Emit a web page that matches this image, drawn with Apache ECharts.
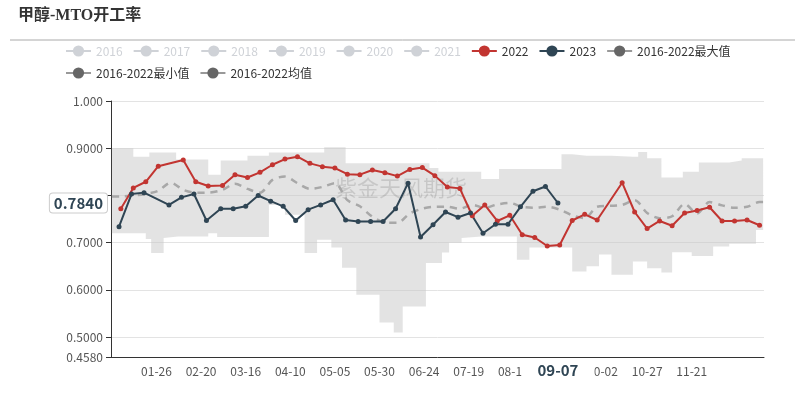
<!DOCTYPE html>
<html>
<head>
<meta charset="utf-8">
<script type="text/javascript" src="https://cdn.jsdelivr.net/npm/echarts@6/dist/echarts.min.js"></script>
</head>
<body style="margin:0;background:#fff;">
<div id="main" style="width:806px;height:400px;"></div>
<script type="text/javascript">
    // 日期轴：全年每天 MM-DD（含02-29）
    var monthDays = [31, 29, 31, 30, 31, 30, 31, 31, 30, 31, 30, 31];
    function pad(n) { return n < 10 ? '0' + n : '' + n; }
    var days = [];
    for (var m = 0; m < 12; m++) {
        for (var d = 1; d <= monthDays[m]; d++) days.push(pad(m + 1) + '-' + pad(d));
    }

    // 2022 周度
    var dates2022 = ['01-06','01-13','01-20','01-27','02-10','02-17','02-24','03-03','03-10','03-17','03-24','03-31',
        '04-07','04-14','04-21','04-28','05-05','05-12','05-19','05-26','06-02','06-09','06-16','06-23','06-30',
        '07-07','07-14','07-21','07-28','08-04','08-11','08-18','08-25','09-01','09-08','09-15','09-22','09-29',
        '10-13','10-20','10-27','11-03','11-10','11-17','11-24','12-01','12-08','12-15','12-22','12-29'];
    var values2022 = [0.772, 0.816, 0.829, 0.862, 0.875, 0.829, 0.820, 0.821, 0.844, 0.838, 0.849, 0.865,
        0.877, 0.882, 0.868, 0.861, 0.858, 0.845, 0.844, 0.854, 0.848, 0.841, 0.855, 0.859, 0.842,
        0.818, 0.815, 0.757, 0.780, 0.746, 0.758, 0.717, 0.711, 0.693, 0.695, 0.747, 0.760, 0.748,
        0.827, 0.765, 0.730, 0.746, 0.736, 0.763, 0.768, 0.775, 0.746, 0.746, 0.748, 0.737];

    // 2023 周度
    var dates2023 = ['01-05','01-12','01-19','02-02','02-09','02-16','02-23','03-02','03-09','03-16','03-23','03-30',
        '04-06','04-13','04-20','04-27','05-04','05-11','05-18','05-25','06-01','06-08','06-15','06-22','06-29',
        '07-06','07-13','07-20','07-27','08-03','08-10','08-17','08-24','08-31','09-07'];
    var values2023 = [0.734, 0.803, 0.806, 0.780, 0.796, 0.803, 0.747, 0.772, 0.772, 0.777, 0.800, 0.788,
        0.777, 0.747, 0.770, 0.780, 0.791, 0.748, 0.745, 0.745, 0.745, 0.772, 0.826, 0.712, 0.738,
        0.765, 0.754, 0.763, 0.720, 0.739, 0.739, 0.776, 0.809, 0.819, 0.784];

    // 2016-2022均值
    var datesAvg = ['01-01','01-06','01-13','01-20','01-27','02-03','02-10','02-17','02-24','03-03','03-10','03-17','03-24','03-31',
        '04-07','04-14','04-21','04-28','05-05','05-12','05-19','05-26','06-02','06-09','06-16','06-23','06-30',
        '07-07','07-14','07-21','07-28','08-04','08-11','08-18','08-25','09-01','09-08','09-15','09-22','09-29',
        '10-06','10-13','10-20','10-27','11-03','11-10','11-17','11-24','12-01','12-08','12-15','12-22','12-29','12-31'];
    var valuesAvg = [0.798, 0.798, 0.800, 0.803, 0.810, 0.827, 0.812, 0.806, 0.806, 0.812, 0.825, 0.814, 0.806, 0.833,
        0.840, 0.826, 0.814, 0.818, 0.826, 0.790, 0.777, 0.755, 0.743, 0.742, 0.762, 0.772, 0.776,
        0.776, 0.772, 0.780, 0.774, 0.781, 0.784, 0.776, 0.774, 0.776, 0.770, 0.758, 0.752, 0.776,
        0.778, 0.780, 0.790, 0.763, 0.752, 0.756, 0.782, 0.762, 0.786, 0.779, 0.774, 0.776, 0.786, 0.786];

    // 2016-2022 最大/最小值 (取值变化的日期)
    var bandDates = ['01-01','01-13','01-20','01-22','01-23','01-30','02-06','02-07','02-24','02-29','03-02','03-17','03-29',
        '04-07','04-18','04-25','04-29','05-03','05-09','05-11','05-17','05-30','06-07','06-12','06-25','06-27',
        '07-02','07-04','07-08','07-15','07-26','08-05','08-15','08-22','09-09','09-15','09-23','09-30','10-07',
        '10-19','10-22','10-27','11-04','11-10','11-16','11-21','11-25','12-03','12-12','12-19','12-27','12-31'];
    var bandMax = [0.900, 0.882, 0.882, 0.891, 0.891, 0.891, 0.876, 0.876, 0.844, 0.844, 0.874, 0.884, 0.891,
        0.891, 0.891, 0.891, 0.902, 0.902, 0.902, 0.868, 0.868, 0.868, 0.868, 0.868, 0.868, 0.858,
        0.850, 0.850, 0.850, 0.850, 0.835, 0.856, 0.856, 0.856, 0.887, 0.884, 0.884, 0.884, 0.882,
        0.882, 0.892, 0.879, 0.838, 0.838, 0.850, 0.850, 0.870, 0.870, 0.874, 0.879, 0.879, 0.879];
    var bandMin = [0.720, 0.720, 0.708, 0.708, 0.678, 0.710, 0.710, 0.713, 0.720, 0.712, 0.712, 0.712, 0.780,
        0.759, 0.678, 0.706, 0.706, 0.690, 0.647, 0.647, 0.590, 0.531, 0.510, 0.565, 0.657, 0.657,
        0.657, 0.679, 0.700, 0.710, 0.713, 0.713, 0.664, 0.690, 0.690, 0.639, 0.650, 0.675, 0.632,
        0.660, 0.660, 0.646, 0.637, 0.680, 0.680, 0.672, 0.672, 0.692, 0.698, 0.698, 0.727, 0.727];

    var hiddenYears = ['2016', '2017', '2018', '2019', '2020', '2021'];

    function zip(ds, vs) {
        return ds.map(function (d, i) { return [d, vs[i]]; });
    }
    // 标签每25天一个
    function showIdx(i) { return i > 0 && i % 25 === 0 && i <= 325; }

    var font = "'Noto Sans CJK SC', 'Noto Sans', sans-serif";
    var myChart = echarts.init(document.getElementById('main'));

    var series = hiddenYears.map(function (y) {
        return { name: y, type: 'line', data: [], symbol: 'circle', itemStyle: { color: '#ccc' } };
    });
    series.push({
        name: '2016-2022最小值', type: 'line', stack: 'band', step: 'end',
        data: zip(bandDates, bandMin),
        symbol: 'circle', showSymbol: false, silent: true,
        lineStyle: { opacity: 0 }, itemStyle: { color: '#666' }
    });
    series.push({
        name: '2016-2022最大值', type: 'line', stack: 'band', step: 'end',
        data: zip(bandDates, bandMax.map(function (v, i) { return +(v - bandMin[i]).toFixed(3); })),
        symbol: 'circle', showSymbol: false, silent: true,
        lineStyle: { opacity: 0 }, itemStyle: { color: '#666' },
        areaStyle: { color: 'rgba(200,200,200,0.5)', opacity: 1 }
    });
    series.push({
        name: '2016-2022均值', type: 'line', data: zip(datesAvg, valuesAvg),
        smooth: 0.3, symbol: 'circle', showSymbol: false,
        itemStyle: { color: '#666' },
        lineStyle: { color: '#a8a8a8', width: 2.5, type: [7, 6] }
    });
    series.push({
        name: '2022', type: 'line', data: zip(dates2022, values2022),
        symbol: 'circle', symbolSize: 5, showAllSymbol: true,
        itemStyle: { color: '#c23531' }, lineStyle: { width: 2 }
    });
    series.push({
        name: '2023', type: 'line', data: zip(dates2023, values2023),
        symbol: 'circle', symbolSize: 5, showAllSymbol: true,
        itemStyle: { color: '#2f4554' }, lineStyle: { width: 2 }
    });

    var selected = {};
    hiddenYears.forEach(function (y) { selected[y] = false; });

    var option = {
        animation: false,
        textStyle: { fontFamily: font },
        title: {
            text: '甲醇-MTO开工率', left: 18, top: 8, padding: 0,
            textStyle: { fontSize: 16, fontWeight: 'bold', color: '#333',
                fontFamily: "'Liberation Serif', 'Noto Sans CJK SC', serif" }
        },
        graphic: [
            { type: 'line', shape: { x1: 10, y1: 40, x2: 795, y2: 40 }, style: { stroke: '#aaa', lineWidth: 1 } },
            { type: 'text', left: 335, top: 177, z: 3, silent: true,
              style: { text: '紫金天风期货', fontSize: 22, fontFamily: font, fill: 'rgba(0,0,0,0.22)' } }
        ],
        legend: {
            left: 60, top: 40, right: 40,
            itemGap: 10,
            textStyle: { fontSize: 12, color: '#333', fontFamily: font },
            selected: selected,
            data: hiddenYears.concat(['2022', '2023',
                { name: '2016-2022最大值', lineStyle: { color: '#999', opacity: 1 } },
                { name: '2016-2022最小值', lineStyle: { color: '#999', opacity: 1 } },
                { name: '2016-2022均值', lineStyle: { color: '#999', opacity: 1, type: 'solid' } }])
        },
        grid: { left: 111, right: 42, top: 101, bottom: 43 },
        xAxis: {
            type: 'category', data: days, boundaryGap: true,
            axisLine: { lineStyle: { color: '#333' } },
            axisTick: { alignWithLabel: true, interval: showIdx, lineStyle: { color: '#333' } },
            axisLabel: { interval: showIdx, color: '#555', fontSize: 12, margin: 8, fontFamily: font },
            splitLine: { show: false },
            axisPointer: {
                show: true, value: 250, status: 'show', type: 'line',
                lineStyle: { opacity: 0 },
                label: { show: true, backgroundColor: '#fff', color: '#2f4554', fontWeight: 'bold',
                    fontSize: 15, padding: [2, 16], margin: 4, borderWidth: 0, fontFamily: font }
            }
        },
        yAxis: {
            type: 'value', min: 0.458, max: 1,
            axisLine: { show: true, lineStyle: { color: '#333' } },
            axisTick: { show: true, length: 5, lineStyle: { color: '#333' } },
            axisLabel: {
                color: '#555', fontSize: 12, fontFamily: font,
                formatter: function (v) { return Math.abs(v - 0.8) < 1e-6 ? '' : v.toPrecision(4); }
            },
            splitLine: { lineStyle: { color: '#e3e3e3' } },
            axisPointer: {
                show: true, value: 0.784, status: 'show', type: 'line',
                lineStyle: { opacity: 0 },
                label: { show: true, backgroundColor: '#fff', borderColor: '#ccc', borderWidth: 1,
                    color: '#2f4554', fontWeight: 'bold', fontSize: 15, padding: [2, 4], margin: 4,
                    fontFamily: font,
                    formatter: function (p) { return (+p.value).toFixed(4); } }
            }
        },
        series: series
    };
    myChart.setOption(option);
</script>
</body>
</html>
